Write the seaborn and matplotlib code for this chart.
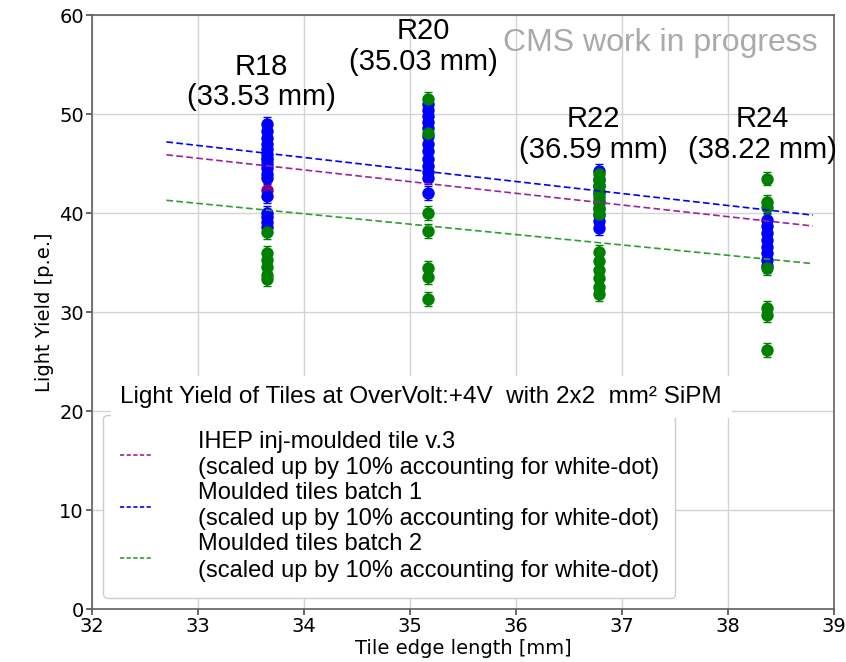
import pandas as pd
import seaborn as sns
import matplotlib.pyplot as plt

# tile columns
tile_names = ['R18', 'R20', 'R22', 'R24']
tile_sizes = ['33.53', '35.03', '36.59', '38.22']
col_x = [33.65, 35.17, 36.78, 38.37]

# light yield per tile [p.e.]
ihep_r18 = [45.4, 42.3]

b1_r18 = [49.0, 48.3, 47.6, 47.0, 46.5, 46.0, 45.6, 45.0, 44.6, 44.0, 43.6,
          41.7, 40.0, 39.6, 39.1, 38.6]
b1_r20 = [51.0, 50.4, 49.8, 49.2, 48.6, 47.8, 47.0, 46.3, 45.5, 44.8, 44.2,
          43.6, 42.0]
b1_r22 = [44.3, 43.5, 42.7, 42.0, 41.2, 40.5, 39.8, 39.2, 38.5]
b1_r24 = [39.3, 38.7, 38.0, 37.3, 36.6, 36.0, 35.3, 34.7]

b2_r18 = [38.1, 36.0, 35.3, 34.6, 33.8, 33.3]
b2_r20 = [51.5, 48.1, 40.0, 38.2, 34.5, 33.5, 31.3]
b2_r22 = [44.0, 43.4, 42.8, 42.2, 41.6, 41.0, 40.4, 39.9,
          36.1, 35.2, 34.3, 33.4, 32.5, 31.8]
b2_r24 = [43.5, 41.1, 40.6, 34.5, 30.4, 29.7, 26.2]

ly_err = 0.7

# linear fits (end points)
fit_x = [32.7, 38.8]
fit_ihep = [45.9, 38.7]
fit_b1 = [47.2, 39.8]
fit_b2 = [41.3, 34.9]

sublabel = '\n(scaled up by 10% accounting for white-dot)'
series = [
    ('ihep', 'IHEP inj-moulded tile v.3' + sublabel, 'purple', '#a020a0',
     [ihep_r18, [], [], []], fit_ihep),
    ('b1', 'Moulded tiles batch 1' + sublabel, 'blue', 'blue',
     [b1_r18, b1_r20, b1_r22, b1_r24], fit_b1),
    ('b2', 'Moulded tiles batch 2' + sublabel, 'green', '#2ca02c',
     [b2_r18, b2_r20, b2_r22, b2_r24], fit_b2),
]

sns.set_theme(style='whitegrid', context='notebook')
plt.rcParams['font.family'] = ['DejaVu Sans']
plt.rcParams['text.color'] = 'black'
plt.rcParams['axes.labelcolor'] = 'black'
plt.rcParams['xtick.color'] = 'black'
plt.rcParams['ytick.color'] = 'black'

fig = plt.figure(figsize=(8.46, 6.62), dpi=100)
ax = fig.add_axes([0.109, 0.080, 0.877, 0.897])

handles = []
for key, label, pcol, lcol, cols, fit in series:
    rows = []
    for x, vals in zip(col_x, cols):
        for v in vals:
            rows.append({'x': x, 'ly': v})
    df = pd.DataFrame(rows)
    if len(df):
        ax.errorbar(df['x'], df['ly'], yerr=ly_err, fmt='none', ecolor=pcol,
                    elinewidth=1.2, capsize=3, zorder=2)
        sns.scatterplot(data=df, x='x', y='ly', color=pcol, s=80,
                        edgecolor=pcol, linewidth=0, ax=ax, zorder=3,
                        legend=False)
    fdf = pd.DataFrame({'x': fit_x, 'ly': fit})
    sns.lineplot(data=fdf, x='x', y='ly', color=lcol, linewidth=1.2,
                 ax=ax, zorder=4)
    ax.lines[-1].set_linestyle((0, (4, 2)))
    ax.lines[-1].set_label(label)
    handles.append(ax.lines[-1])

ax.set_xlim(32, 39)
ax.set_ylim(0, 60)
ax.set_xticks(range(32, 40))
ax.set_yticks(range(0, 61, 10))
ax.tick_params(axis='both', labelsize=14, length=4, color='#555555',
               bottom=True, left=True, pad=2)
ax.set_xlabel('Tile edge length [mm]', fontsize=14, labelpad=2)
ax.set_ylabel('Light Yield [p.e.]', fontsize=14)
ax.grid(True, color='#d3d3d3', linewidth=1)
for side in ['left', 'bottom', 'top', 'right']:
    ax.spines[side].set_color('#606060')
    ax.spines[side].set_linewidth(1.2)

txt_font = ['Liberation Sans', 'DejaVu Sans']
label_y = [50.3, 53.9, 45.0, 45.0]
for x, name, size, y in zip(col_x, tile_names, tile_sizes, label_y):
    ax.text(x - 0.05, y, f'{name}\n({size} mm)', ha='center', va='bottom',
            fontsize=21, family=txt_font, linespacing=1.1)

ax.text(0.978, 0.978, 'CMS work in progress', transform=ax.transAxes,
        ha='right', va='top', fontsize=23, color='#aaaaaa', family=txt_font)

leg = ax.legend(handles=handles, loc='lower left',
                bbox_to_anchor=(0.015, 0.0185), borderaxespad=0,
                prop={'family': txt_font, 'size': 17},
                handlelength=1.4, handletextpad=1.9, borderpad=0.7,
                labelspacing=0.12, frameon=True, framealpha=1)
leg.get_frame().set_edgecolor('#cccccc')
for t in leg.get_texts():
    t.set_linespacing(1.25)
for h in leg.get_lines():
    h.set_linestyle((0, (2.5, 1.5)))

ax.text(0.038, 0.357, 'Light Yield of Tiles at OverVolt:+4V  with 2x2  mm\u00b2 SiPM',
        transform=ax.transAxes, ha='left', va='center', fontsize=17.5,
        family=txt_font, zorder=6,
        bbox=dict(facecolor='white', edgecolor='none', pad=7))

fig.savefig('out.png', dpi=100)
